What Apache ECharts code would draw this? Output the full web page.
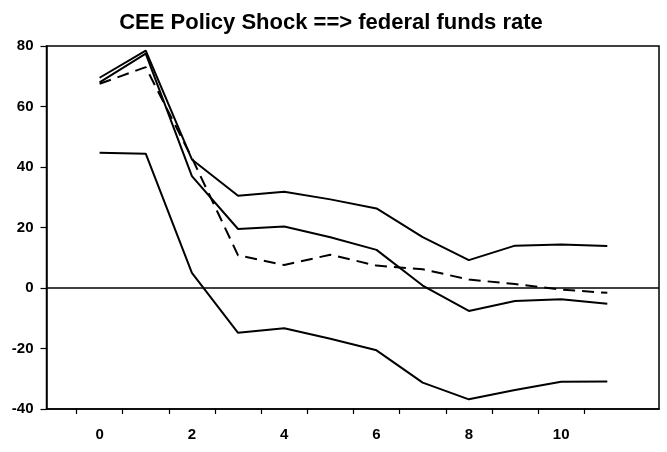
<!DOCTYPE html>
<html>
<head>
<meta charset="utf-8">
<script src="https://cdn.jsdelivr.net/npm/echarts@6/dist/echarts.min.js"></script>
<style>
html,body{margin:0;padding:0;background:#fff;}
#chart{width:667px;height:452px;}
</style>
</head>
<body>
<div id="chart"></div>
<script>
var horizons = [0, 1, 2, 3, 4, 5, 6, 7, 8, 9, 10, 11];
var upperBand = [69.5, 78.5, 42.5, 30.5, 31.8, 29.3, 26.3, 16.8, 9.2, 14.0, 14.4, 13.9];
var pointEstimate = [68, 77.5, 37, 19.5, 20.3, 16.8, 12.6, 0.8, -7.6, -4.3, -3.7, -5.2];
var dashedEstimate = [67.5, 73, 43, 10.8, 7.6, 11.0, 7.4, 6.2, 2.8, 1.3, -0.5, -1.6];
var lowerBand = [44.7, 44.4, 5.0, -14.8, -13.3, -16.8, -20.6, -31.3, -36.8, -33.7, -31.0, -30.9];
var xTickLabels = [0, 2, 4, 6, 8, 10];
var xTickMarks = [-0.5, 0.5, 1.5, 2.5, 3.5, 4.5, 5.5, 6.5, 7.5, 8.5, 9.5, 10.5];
var titleText = 'CEE Policy Shock ==> federal funds rate';

function pairs(vals) {
  return horizons.map(function (h, i) { return [h, vals[i]]; });
}

var FONT = '"Liberation Sans", Arial, Helvetica, sans-serif';
var chart = echarts.init(document.getElementById('chart'), null, {renderer: 'canvas'});

var lineBase = {
  type: 'line',
  symbol: 'none',
  silent: true,
  lineStyle: {color: '#000', width: 2}
};

chart.setOption({
  animation: false,
  backgroundColor: '#fff',
  title: {
    text: titleText,
    left: 326,
    textAlign: 'center',
    top: 7,
    textStyle: {fontFamily: FONT, fontSize: 22, fontWeight: 'bold', color: '#000'}
  },
  grid: {
    left: 46.5, right: 8, top: 46, bottom: 43,
    show: true, borderColor: '#000', borderWidth: 1.5, backgroundColor: 'transparent'
  },
  xAxis: {
    type: 'value',
    min: -1.15,
    max: 12.12,
    axisLine: {show: true, onZero: false, lineStyle: {color: '#000', width: 1.5}},
    axisTick: {show: true, length: 5, inside: false, customValues: xTickMarks, lineStyle: {color: '#000', width: 1.2}},
    axisLabel: {show: true, customValues: xTickLabels, margin: 18, fontFamily: FONT, fontSize: 15, fontWeight: 'bold', color: '#000'},
    splitLine: {show: false}
  },
  yAxis: {
    type: 'value',
    min: -40,
    max: 80,
    interval: 20,
    axisLine: {show: true, onZero: false, lineStyle: {color: '#000', width: 1.5}},
    axisTick: {show: true, length: 6, inside: false, lineStyle: {color: '#000', width: 1.2}},
    axisLabel: {margin: 13, fontFamily: FONT, fontSize: 15, fontWeight: 'bold', color: '#000'},
    splitLine: {show: false}
  },
  series: [
    Object.assign({}, lineBase, {
      name: 'upper', data: pairs(upperBand),
      markLine: {
        silent: true, symbol: ['none', 'none'], label: {show: false},
        lineStyle: {color: '#000', width: 1.5, type: 'solid'},
        data: [{yAxis: 0}]
      }
    }),
    Object.assign({}, lineBase, {name: 'point', data: pairs(pointEstimate)}),
    Object.assign({}, lineBase, {name: 'dashed', data: pairs(dashedEstimate), lineStyle: {color: '#000', width: 2, type: [12, 7]}}),
    Object.assign({}, lineBase, {name: 'lower', data: pairs(lowerBand)})
  ]
});
</script>
</body>
</html>
